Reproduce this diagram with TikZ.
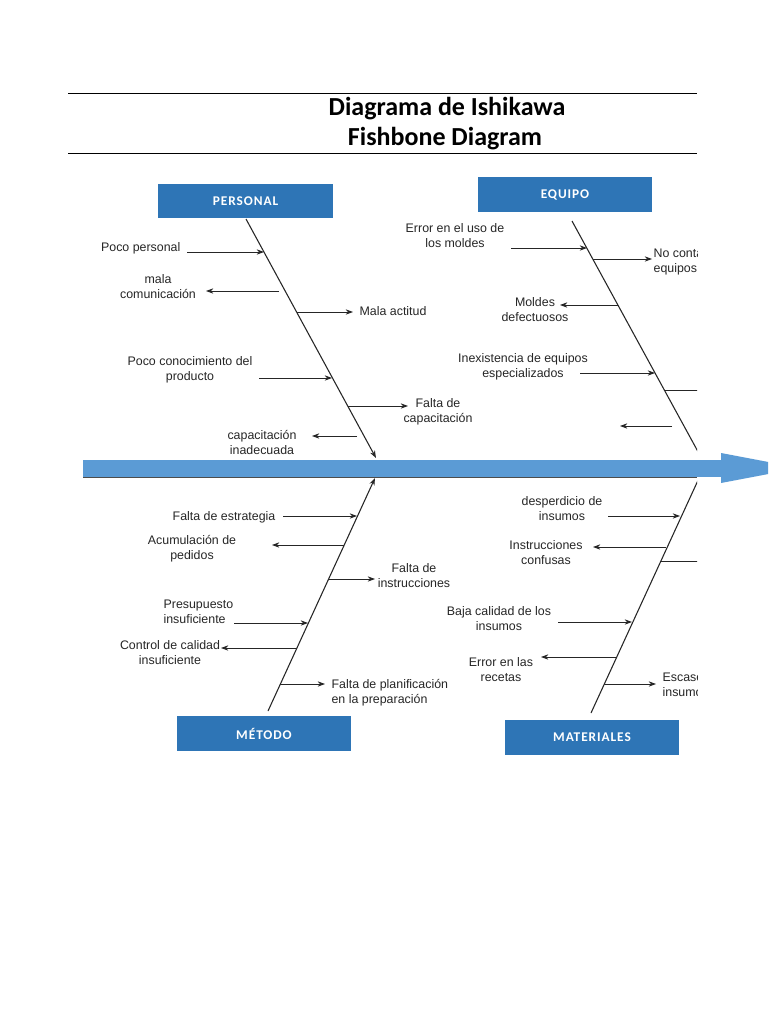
\documentclass[tikz,border=0pt]{standalone}
\usepackage{fontspec}
\setmainfont{Liberation Sans}
\newfontfamily\titlefont{Carlito}
\newfontfamily\catfont[LetterSpace=7]{Carlito}
\usetikzlibrary{arrows.meta,calc}
\definecolor{boxblue}{HTML}{2E75B6}
\definecolor{spineblue}{HTML}{5B9BD5}
\begin{document}
\begin{tikzpicture}[x=0.75pt,y=-0.75pt,
  cat/.style={fill=boxblue, text=white, font=\catfont\bfseries\fontsize{10}{12}\selectfont,
    minimum width=131pt, minimum height=26pt, inner sep=0pt},
  lbl/.style={font=\fontsize{9.3}{11.25}\selectfont, text=black!85, align=center, inner sep=1pt},
  ttl/.style={font=\titlefont\bfseries\fontsize{19.5}{20}\selectfont, inner sep=0pt},
  bone/.style={line width=0.8pt, black!85},
  br/.style={line width=0.6pt, black!85, -{Stealth[length=5.5pt,width=4pt,inset=1.8pt]}},
  brn/.style={line width=0.6pt, black!85}]
\useasboundingbox (0,0) rectangle (768,1024);
\clip (0,0) rectangle (768,1024);
\fill[white] (0,0) rectangle (768,1024);

% header
\coordinate (h1a) at (68,94); \coordinate (h1b) at (697,94);
\coordinate (h2a) at (68,153); \coordinate (h2b) at (697,153);
\draw[line width=0.75pt] (h1a) -- (h1b);
\draw[line width=0.75pt] (h2a) -- (h2b);
\node[ttl] (title1) at (447,108.5) {Diagrama de Ishikawa};
\node[ttl] (title2) at (445,138.5) {Fishbone Diagram};

% spine
\fill[spineblue] (83,460) rectangle (722,477);
\fill[spineblue] (721,453) -- (800,468) -- (721,483) -- cycle;

% category boxes
\node[cat] (per) at (245.5,201) {PERSONAL};
\node[cat] (equ) at (565,194.5) {EQUIPO};
\node[cat] (met) at (264,733.5) {MÉTODO};
\node[cat] (mat) at (592,737.5) {MATERIALES};

\begin{scope}
\clip (0,0) rectangle (697,1024);
\coordinate (sl) at (83,477.5); \coordinate (sr) at (697,477.5);
\draw[black!70, line width=1pt] (sl) -- (sr);

% bones
\coordinate (pb1) at (246,219); \coordinate (pb2) at (376,458);
\draw[bone, -{Stealth[length=5.5pt,width=4pt,inset=1.8pt]}] (pb1) -- (pb2);
\coordinate (eb1) at (572,221); \coordinate (eb2) at (702,459);
\draw[bone] (eb1) -- (eb2);
\coordinate (mb1) at (268,711); \coordinate (mb2) at (375,478);
\draw[bone, -{Stealth[length=5.5pt,width=4pt,inset=1.8pt]}] (mb1) -- (mb2);
\coordinate (tb1) at (591,713); \coordinate (tb2) at (700,476);
\draw[bone] (tb1) -- (tb2);

% PERSONAL labels
\node[lbl, anchor=east] (p1) at (182,248) {Poco personal};
\node[lbl] (p2) at (158,287) {mala\\comunicación};
\node[lbl, anchor=west] (p3) at (358,311) {Mala actitud};
\node[lbl] (p4) at (190,369.5) {Poco conocimiento del\\producto};
\node[lbl] (p5) at (438,412) {Falta de\\capacitación};
\node[lbl] (p6) at (262,442.5) {capacitación\\inadecuada};
\path (187,252) coordinate (a1s) (264,252) coordinate (a1e)
      (279,291) coordinate (a2s) (206,291) coordinate (a2e)
      (297,312) coordinate (a3s) (353,312) coordinate (a3e)
      (259,378) coordinate (a4s) (332,378) coordinate (a4e)
      (348,406) coordinate (a5s) (408,406) coordinate (a5e)
      (357,436) coordinate (a6s) (312,436) coordinate (a6e);
\foreach \i in {1,...,6} {\draw[br] (a\i s) -- (a\i e);}

% EQUIPO labels
\node[lbl] (e1) at (455,236) {Error en el uso de\\los moldes};
\node[lbl, anchor=west, align=left] (e2) at (652,262) {No contar con\\equipos};
\node[lbl] (e3) at (535,309.5) {Moldes\\defectuosos};
\node[lbl] (e4) at (523,366.5) {Inexistencia de equipos\\especializados};
\path (511,248) coordinate (b1s) (587,248) coordinate (b1e)
      (593,259) coordinate (b2s) (652,259) coordinate (b2e)
      (618,305) coordinate (b3s) (560,305) coordinate (b3e)
      (580,373) coordinate (b4s) (655,373) coordinate (b4e)
      (672,426) coordinate (b5s) (620,426) coordinate (b5e)
      (664,390) coordinate (b6s) (700,390) coordinate (b6e);
\foreach \i in {1,...,5} {\draw[br] (b\i s) -- (b\i e);}
\draw[brn] (b6s) -- (b6e);

% METODO labels
\node[lbl, anchor=east] (m1) at (277,517) {Falta de estrategia};
\node[lbl] (m2) at (192,548.5) {Acumulación de\\pedidos};
\node[lbl] (m3) at (414,575.5) {Falta de\\instrucciones};
\node[lbl, anchor=west, align=left] (m4) at (162,612) {Presupuesto\\insuficiente};
\node[lbl] (m5) at (170,652.5) {Control de calidad\\insuficiente};
\node[lbl, anchor=west, align=left] (m6) at (330,692.5) {Falta de planificación\\en la preparación};
\path (283,516) coordinate (c1s) (357,516) coordinate (c1e)
      (344,545) coordinate (c2s) (272,545) coordinate (c2e)
      (329,579) coordinate (c3s) (375,579) coordinate (c3e)
      (234,623) coordinate (c4s) (308,623) coordinate (c4e)
      (297,648) coordinate (c5s) (221,648) coordinate (c5e)
      (280,684) coordinate (c6s) (325,684) coordinate (c6e);
\foreach \i in {1,...,6} {\draw[br] (c\i s) -- (c\i e);}

% MATERIALES labels
\node[lbl] (t1) at (562,508.5) {desperdicio de\\insumos};
\node[lbl] (t2) at (546,552.5) {Instrucciones\\confusas};
\node[lbl] (t3) at (499,618.5) {Baja calidad de los\\insumos};
\node[lbl] (t4) at (501,669.5) {Error en las\\recetas};
\node[lbl, anchor=west, align=left] (t5) at (661,684.5) {Escasez de\\insumos};
\path (608,516) coordinate (d1s) (680,516) coordinate (d1e)
      (666,547) coordinate (d2s) (593,547) coordinate (d2e)
      (558,622) coordinate (d3s) (632,622) coordinate (d3e)
      (616,657) coordinate (d4s) (541,657) coordinate (d4e)
      (604,684) coordinate (d5s) (656,684) coordinate (d5e)
      (660,561) coordinate (d6s) (700,561) coordinate (d6e);
\foreach \i in {1,...,5} {\draw[br] (d\i s) -- (d\i e);}
\draw[brn] (d6s) -- (d6e);
\end{scope}
\end{tikzpicture}
\end{document}
